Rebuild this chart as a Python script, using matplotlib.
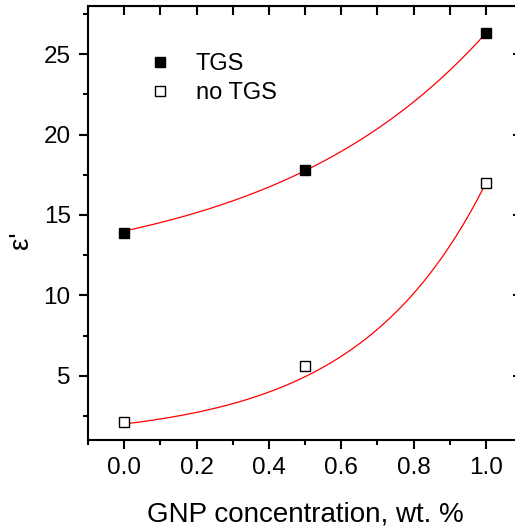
import numpy as np
import matplotlib
matplotlib.use("Agg")
import matplotlib.pyplot as plt
from matplotlib.ticker import MultipleLocator

plt.rcParams['font.family'] = ['Liberation Sans', 'DejaVu Sans']

# GNP content, wt. %
conc = [0.0, 0.5, 1.0]
eps_tgs = [13.9, 17.8, 26.3]
eps_no_tgs = [2.1, 5.6, 17.0]

# exponential growth fits y = y0 + A*exp(x/t)
fit_tgs = (11.07, 2.93, 0.6065)
fit_no_tgs = (1.05, 0.948, 0.3544)

fig = plt.figure(figsize=(5.15, 5.29), dpi=100)
ax = fig.add_axes([88 / 515, 89 / 529, 434 / 515, 434 / 529])

xx = np.linspace(0, 1, 200)
for y0, a, t in (fit_tgs, fit_no_tgs):
    ax.plot(xx, y0 + a * np.exp(xx / t), color='red', lw=0.9, zorder=2)

ax.plot(conc, eps_tgs, 's', ms=7, mfc='black', mec='black', mew=1.0,
        ls='none', label='TGS', zorder=3)
ax.plot(conc, eps_no_tgs, 's', ms=7, mfc='white', mec='black', mew=1.0,
        ls='none', label='no TGS', zorder=3)

ax.set_xlim(-0.1, 1.1)
ax.set_ylim(1, 28)
ax.xaxis.set_major_locator(MultipleLocator(0.2))
ax.xaxis.set_minor_locator(MultipleLocator(0.1))
ax.yaxis.set_major_locator(MultipleLocator(5))
ax.yaxis.set_minor_locator(MultipleLocator(2.5))
ax.xaxis.set_major_formatter(plt.FormatStrFormatter('%.1f'))

for s in ax.spines.values():
    s.set_linewidth(1.5)
ax.tick_params(which='both', direction='out', width=1.5, labelsize=17.5,
               top=False, right=False)
ax.tick_params(which='major', length=6.5, pad=6)
ax.tick_params(which='minor', length=3.5)

# inward ticks on the top and right edges, no labels
sx = ax.secondary_xaxis('top')
sx.set_xticks(np.arange(-0.1, 1.11, 0.1))
sx.set_xticklabels([])
sx.tick_params(direction='in', width=1.5, length=6.5)
sy = ax.secondary_yaxis('right')
sy.set_yticks([5, 10, 15, 20, 25])
sy.set_yticklabels([])
sy.tick_params(direction='in', width=1.5, length=6.5)

ax.set_xlabel('GNP concentration, wt. %', fontsize=20, labelpad=16)
ax.set_ylabel("ε'", fontsize=20)
ax.yaxis.set_label_coords(-0.125, 0.46)

ax.legend(loc='upper left', bbox_to_anchor=(0.118, 0.914), frameon=False,
          fontsize=17, handlelength=1.0, handletextpad=1.0,
          labelspacing=0.3, borderaxespad=0)

fig.savefig('out.png', dpi=100)
